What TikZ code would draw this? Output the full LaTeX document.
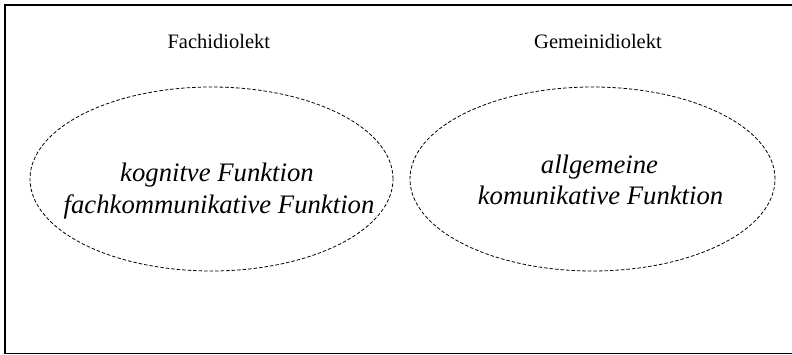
\documentclass[tikz,border=0pt]{standalone}
\usepackage{fontspec}
\setmainfont{Liberation Serif}
\usetikzlibrary{shapes.geometric}
\begin{document}
\begin{tikzpicture}[x=1pt,y=1pt,
  oval/.style={draw, ellipse, dash pattern=on 3.5pt off 2pt, line width=0.8pt, inner sep=0pt},
  title/.style={anchor=base, inner sep=0pt, font=\fontsize{20.5}{24}\selectfont},
  func/.style={anchor=base, inner sep=0pt, font=\fontsize{26.7}{32}\selectfont\itshape}]
\useasboundingbox (0,0) rectangle (792,355);
\draw[line width=1.8pt] (792,350.3) -- (4.8,350.3) -- (4.8,1.5) -- (792,1.5);
\node[oval, minimum width=363pt, minimum height=184pt] (e1) at (211.5,176) {};
\node[oval, minimum width=365pt, minimum height=184pt] (e2) at (592.5,176) {};
\node[title] (t1) at (218.8,306) {Fachidiolekt};
\node[title] (t2) at (598,306) {Gemeinidiolekt};
\node[func] (a1) at (217,173.3) {kognitve Funktion};
\node[func] (a2) at (219,141) {fachkommunikative Funktion};
\node[func] (b1) at (599.5,181.7) {allgemeine};
\node[func] (b2) at (600.5,150.7) {komunikative Funktion};
\end{tikzpicture}
\end{document}
